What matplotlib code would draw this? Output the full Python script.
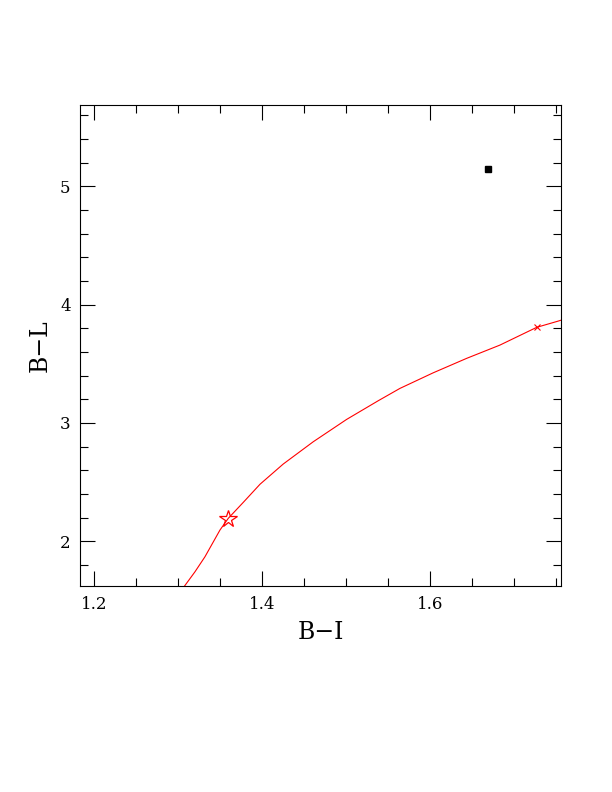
import matplotlib
matplotlib.use("Agg")
import matplotlib.pyplot as plt
from matplotlib.ticker import MultipleLocator

# Data
curve_bi = [1.3068, 1.3199, 1.3318, 1.3497, 1.3596, 1.3775, 1.3974, 1.4251,
            1.4608, 1.5006, 1.5383, 1.5641, 1.6038, 1.6436, 1.6832, 1.7270,
            1.7527, 1.7700]
curve_bl = [1.615, 1.742, 1.869, 2.095, 2.194, 2.329, 2.482, 2.653,
            2.841, 3.030, 3.188, 3.292, 3.424, 3.546, 3.658, 3.808,
            3.861, 3.900]
star_bi, star_bl = [1.3596], [2.190]
cross_bi, cross_bl = [1.7270], [3.810]
square_bi, square_bl = [1.669], [5.144]

xlabel = "B\u2212I"
ylabel = "B\u2212L"

plt.rcParams['font.family'] = ['DejaVu Serif']
fig = plt.figure(figsize=(6.12, 7.92), dpi=100)
ax = fig.add_axes([0.1312, 0.2601, 0.9167 - 0.1312, 0.8674 - 0.2601])

ax.plot(curve_bi, curve_bl, color='red', lw=0.8)
ax.plot(star_bi, star_bl, marker='*', markersize=13, markerfacecolor='none',
        markeredgecolor='red', markeredgewidth=0.9, linestyle='none')
ax.plot(cross_bi, cross_bl, marker='x', markersize=4, color='red',
        markeredgewidth=0.8, linestyle='none')
ax.plot(square_bi, square_bl, marker='s', markersize=5, color='black',
        linestyle='none')

ax.set_xlim(1.1833, 1.756)
ax.set_ylim(1.622, 5.687)

ax.xaxis.set_major_locator(MultipleLocator(0.2))
ax.xaxis.set_minor_locator(MultipleLocator(0.05))
ax.yaxis.set_major_locator(MultipleLocator(1))
ax.yaxis.set_minor_locator(MultipleLocator(0.2))
ax.tick_params(which='both', direction='in', top=True, right=True,
               labelsize=12, width=0.8, pad=7)
ax.tick_params(which='major', length=11)
ax.tick_params(which='minor', length=6)
for s in ax.spines.values():
    s.set_linewidth(0.8)

ax.set_xlabel(xlabel, fontsize=17, labelpad=6)
ax.set_ylabel(ylabel, fontsize=17, labelpad=6)

fig.savefig("out.png", dpi=100)
